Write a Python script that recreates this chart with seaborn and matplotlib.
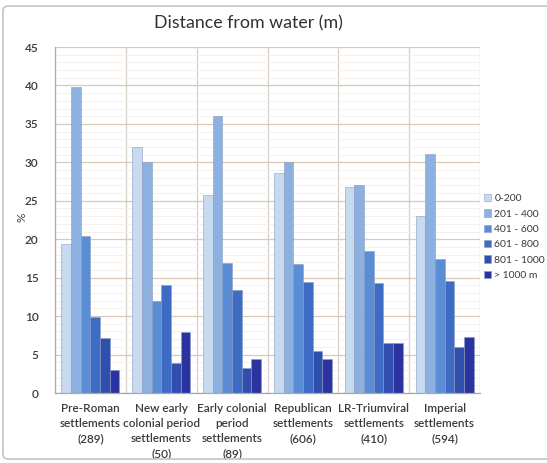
import matplotlib
matplotlib.use("Agg")
import matplotlib.pyplot as plt
import seaborn as sns
import pandas as pd
import numpy as np
from matplotlib.patches import FancyBboxPatch
from matplotlib.ticker import MultipleLocator, FixedLocator

categories = [
    "Pre-Roman\nsettlements\n(289)",
    "New early\ncolonial period\nsettlements\n(50)",
    "Early colonial\nperiod\nsettlements\n(89)",
    "Republican\nsettlements\n(606)",
    "LR-Triumviral\nsettlements\n(410)",
    "Imperial\nsettlements\n(594)",
]
series_names = ["0-200", "201 - 400", "401 - 600", "601 - 800", "801 - 1000", "> 1000 m"]
v_0_200 = [19.4, 32.0, 25.8, 28.6, 26.8, 23.0]
v_201_400 = [39.8, 30.0, 36.0, 30.0, 27.0, 31.1]
v_401_600 = [20.4, 12.0, 16.9, 16.8, 18.5, 17.4]
v_601_800 = [9.9, 14.0, 13.4, 14.5, 14.3, 14.6]
v_801_1000 = [7.2, 3.9, 3.3, 5.4, 6.5, 6.0]
v_over_1000 = [3.0, 7.9, 4.4, 4.4, 6.5, 7.3]
y_ticks = [0, 5, 10, 15, 20, 25, 30, 35, 40, 45]

series_values = [v_0_200, v_201_400, v_401_600, v_601_800, v_801_1000, v_over_1000]
rows = []
for name, vals in zip(series_names, series_values):
    for cat, v in zip(categories, vals):
        rows.append({"cat": cat, "series": name, "value": v})
df = pd.DataFrame(rows)

colors = ["#c8daf0", "#8cb0df", "#5a8dd4", "#3e6cc4", "#2f4eae", "#2a33a0"]

sns.set_style("white")
plt.rcParams["font.family"] = ["Lato", "DejaVu Sans"]

fig = plt.figure(figsize=(5.47, 4.63), dpi=100)
ax = fig.add_axes([55 / 547, 1 - 393 / 463, 425 / 547, 346 / 463])

sns.barplot(data=df, x="cat", y="value", hue="series", hue_order=series_names,
            palette=colors, saturation=1, width=0.82, gap=0, edgecolor="#8a9cc0",
            linewidth=0.4, ax=ax, legend=True)

ax.set_ylim(0, 45)
ax.set_xlim(-0.5, len(categories) - 0.5)
ax.yaxis.set_major_locator(FixedLocator(y_ticks))
ax.yaxis.set_minor_locator(MultipleLocator(1))
ax.xaxis.set_minor_locator(FixedLocator(np.arange(-0.5, len(categories), 1.0)))
ax.set_axisbelow(True)
ax.grid(True, which="major", axis="y", color="#d8c9b8", linewidth=0.9)
ax.grid(True, which="minor", axis="y", color="#f2eeea", linewidth=0.6)
ax.grid(True, which="minor", axis="x", color="#d8cfc6", linewidth=0.9)
ax.grid(False, which="major", axis="x")

for s in ["top", "right"]:
    ax.spines[s].set_visible(False)
for s in ["left", "bottom"]:
    ax.spines[s].set_color("#a8a8a8")
    ax.spines[s].set_linewidth(0.9)

ax.tick_params(axis="y", which="major", length=4, color="#a8a8a8", labelsize=8.5,
               labelcolor="#3a3a3a", pad=8)
ax.tick_params(axis="y", which="minor", length=0)
ax.tick_params(axis="x", which="both", length=0, labelsize=8.5, labelcolor="#3a3a3a", pad=7)
for lbl in ax.get_xticklabels():
    lbl.set_ha("center")
    lbl.set_multialignment("center")
    lbl.set_linespacing(1.45)
for lbl in ax.get_xticklabels() + ax.get_yticklabels():
    lbl.set_fontweight("semibold")

ax.set_xlabel("")
ax.set_ylabel("")
fig.text(22 / 547, 1 - 217 / 463, "%", rotation=90, ha="center", va="center",
         fontsize=8.5, color="#3a3a3a")

fig.text(248 / 547, 1 - 23 / 463, "Distance from water (m)", ha="center", va="center",
         fontsize=12.8, color="#303030")

handles, labels = ax.get_legend_handles_labels()
ax.legend(handles, labels, loc="upper left", bbox_to_anchor=(484 / 547, 1 - 194 / 463),
          bbox_transform=fig.transFigure, frameon=False, fontsize=7.5,
          handlelength=0.7, handleheight=0.7, handletextpad=0.3, labelspacing=0.58,
          borderaxespad=0, borderpad=0, labelcolor="#3a3a3a")

frame = FancyBboxPatch((3 / 547, 1 - 459 / 463), 560 / 547, 453 / 463,
                       boxstyle="round,pad=0,rounding_size=0.01",
                       transform=fig.transFigure, fill=False, edgecolor="#c4c4c4",
                       linewidth=1.2, clip_on=False)
fig.patches.append(frame)

fig.savefig("out.png", dpi=100)
